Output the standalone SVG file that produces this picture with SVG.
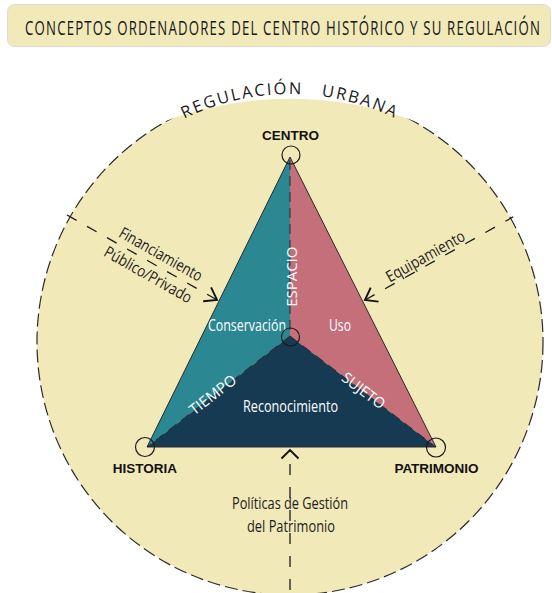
<svg xmlns="http://www.w3.org/2000/svg" width="552" height="593" viewBox="0 0 552 593">
  <style>
    .cond { font-family: "Open Sans", "Noto Sans", sans-serif; }
    .ink { fill: #1c1c1c; }
    .white { fill: #ffffff; }
    .vertex { font-family: "Liberation Sans", Arial, sans-serif; font-weight: bold; font-size: 13.5px; fill: #111; text-anchor: middle; }
    .ring { fill: none; stroke: #1a1a1a; stroke-width: 1.2; }
    .spoke { fill: none; stroke: #1a1a1a; stroke-width: 1.3; stroke-dasharray: 11 12; }
    .chev { fill: none; stroke: #111; stroke-width: 1.9; }
    .inner { fill: none; stroke: #16242c; stroke-width: 0.9; stroke-dasharray: 10 6; }
  </style>
  <defs>
    <path id="arcText" d="M82.2,214 A240,240 0 0 1 497.8,214"/>
  </defs>

  <!-- title banner -->
  <g id="title">
    <rect x="7.5" y="4.5" width="543" height="42" rx="7" fill="#F2E9B9" stroke="#dcdcd4" stroke-width="1"/>
    <text class="cond" fill="#161616" font-weight="500" transform="translate(282.5,35) scale(0.66,1)" x="0" y="0" font-size="20" text-anchor="middle" textLength="780" lengthAdjust="spacing">CONCEPTOS ORDENADORES DEL CENTRO HISTÓRICO Y SU REGULACIÓN</text>
  </g>

  <!-- outer regulation circle -->
  <g id="regulacion-urbana">
    <circle cx="290" cy="342" r="253" fill="#F2E9B9" stroke="#2a2a2a" stroke-width="1.2" stroke-dasharray="13 5"/>
    <path d="M160,123 A360,360 0 0 1 420,123 L420,60 L160,60 Z" fill="#ffffff"/>
    <text class="cond ink" font-size="16.5" font-weight="500" letter-spacing="2" word-spacing="12">
      <textPath href="#arcText" startOffset="50%" text-anchor="middle">REGULACIÓN URBANA</textPath>
    </text>
  </g>

  <!-- triangle sectors -->
  <g id="conservacion">
    <polygon points="290,157 147,447 290,336" fill="#2B8791"/>
    <text class="cond white" x="247" y="331" font-size="16" font-weight="500" text-anchor="middle" textLength="78" lengthAdjust="spacingAndGlyphs">Conservación</text>
  </g>
  <g id="uso">
    <polygon points="290,157 436,447 290,336" fill="#C46F7A"/>
    <text class="cond white" x="340" y="331" font-size="16" font-weight="500" text-anchor="middle" textLength="22" lengthAdjust="spacingAndGlyphs">Uso</text>
  </g>
  <g id="reconocimiento">
    <polygon points="290,336 147,447 436,447" fill="#153A51"/>
    <text class="cond white" x="290.5" y="412" font-size="16" font-weight="500" text-anchor="middle" textLength="95" lengthAdjust="spacingAndGlyphs">Reconocimiento</text>
  </g>

  <!-- triangle outline and inner dividers -->
  <g id="triangle-lines">
    <polygon points="290,157 147,447 436,447" fill="none" stroke="#2a2a2a" stroke-width="1"/>
    <line class="inner" x1="290" y1="160" x2="290" y2="336"/>
    <line class="inner" x1="290" y1="336" x2="147" y2="447"/>
    <line class="inner" x1="290" y1="336" x2="436" y2="447"/>
  </g>

  <!-- axis labels -->
  <g id="axis-labels" class="cond white" font-size="15" font-weight="500" text-anchor="middle">
    <text transform="translate(297,276.7) rotate(-90)" textLength="60" lengthAdjust="spacingAndGlyphs">ESPACIO</text>
    <text transform="translate(216,399) rotate(-37.8)" textLength="55" lengthAdjust="spacingAndGlyphs">TIEMPO</text>
    <text transform="translate(360.3,394.8) rotate(37.2)" textLength="50" lengthAdjust="spacingAndGlyphs">SUJETO</text>
  </g>

  <!-- vertex nodes -->
  <g id="node-centro">
    <circle class="ring" cx="291" cy="155" r="9"/>
    <text class="vertex" x="290.5" y="140">CENTRO</text>
  </g>
  <g id="node-historia">
    <circle class="ring" cx="145" cy="447" r="9.5"/>
    <text class="vertex" x="145" y="473">HISTORIA</text>
  </g>
  <g id="node-patrimonio">
    <circle class="ring" cx="436" cy="447.5" r="9.5"/>
    <text class="vertex" x="436.5" y="473">PATRIMONIO</text>
  </g>
  <g id="node-centro-triangulo">
    <circle class="ring" cx="290.5" cy="337" r="9"/>
  </g>

  <!-- external influences -->
  <g id="connectors">
    <g id="financiamiento" transform="translate(67,215) rotate(29.5)">
      <line class="spoke" x1="0" y1="0" x2="172" y2="0"/>
      <path class="chev" d="M161,-8 L172.4,0 L161,8"/>
      <text class="cond ink" x="101" y="-6.5" font-size="16" font-weight="500" text-anchor="middle" textLength="93" lengthAdjust="spacingAndGlyphs">Financiamiento</text>
      <text class="cond ink" x="100" y="17.5" font-size="16" font-weight="500" text-anchor="middle" textLength="98" lengthAdjust="spacingAndGlyphs">Público/Privado</text>
    </g>
    <g id="equipamiento" transform="translate(365,300) rotate(-29.3)">
      <line class="spoke" x1="0" y1="0" x2="170" y2="0"/>
      <path class="chev" d="M11,-8 L0,0 L11,8"/>
      <text class="cond ink" x="74" y="-3" font-size="16" font-weight="500" text-anchor="middle" textLength="88" lengthAdjust="spacingAndGlyphs">Equipamiento</text>
    </g>
    <g id="politicas">
      <line class="spoke" x1="290" y1="451" x2="290" y2="600" stroke-dasharray="13 13" stroke-dashoffset="-13"/>
      <path class="chev" d="M281.5,458.5 L290,450 L298.5,458.5"/>
      <text class="cond ink" x="290" y="509" font-size="17" font-weight="500" text-anchor="middle" textLength="116" lengthAdjust="spacingAndGlyphs">Políticas de Gestión</text>
      <text class="cond ink" x="291" y="531.5" font-size="17" font-weight="500" text-anchor="middle" textLength="88" lengthAdjust="spacingAndGlyphs">del Patrimonio</text>
    </g>
  </g>
</svg>
